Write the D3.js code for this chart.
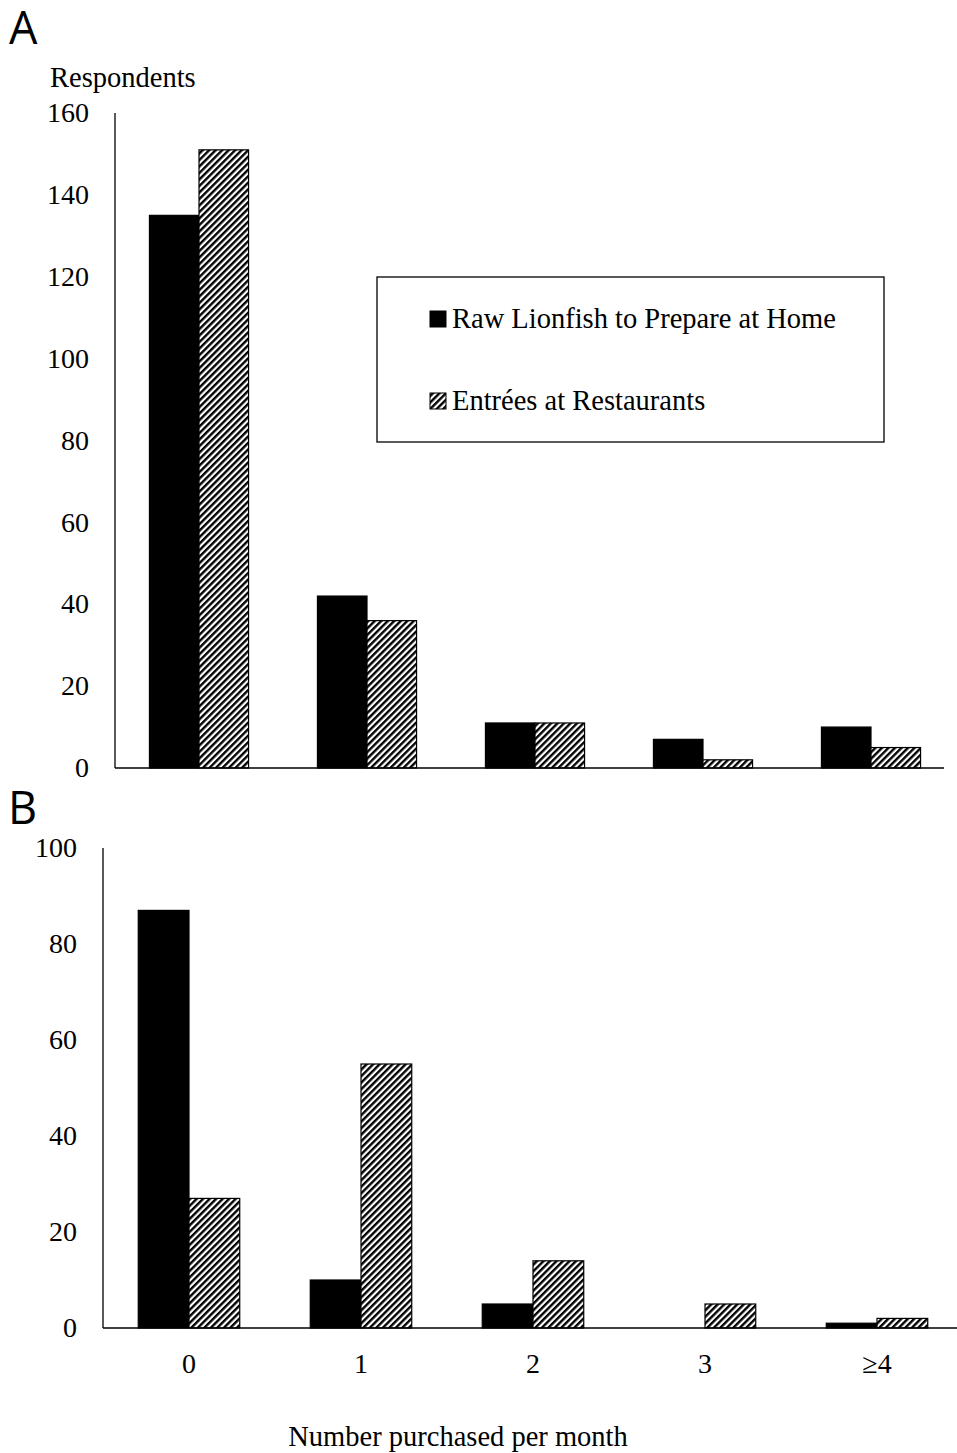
<!DOCTYPE html>
<html>
<head>
<meta charset="utf-8">
<script src="https://cdn.jsdelivr.net/npm/d3@7"></script>
<style>
  body { margin: 0; background: #fff; }
  svg text { font-family: "Liberation Serif", "Times New Roman", serif; fill: #000; }
  .panel-label { font-family: "Open Sans", "DejaVu Sans", sans-serif; }
</style>
</head>
<body>
<div id="chart"></div>
<script>
// categories and series
var categories = ['0', '1', '2', '3', '\u22654'];
var seriesNames = ['Raw Lionfish to Prepare at Home', 'Entr\u00e9es at Restaurants'];

// panel A
var rawA = [135, 42, 11, 7, 10];
var restA = [151, 36, 11, 2, 5];
var ticksA = [0, 20, 40, 60, 80, 100, 120, 140, 160];

// panel B
var rawB = [87, 10, 5, 0, 1];
var restB = [27, 55, 14, 5, 2];
var ticksB = [0, 20, 40, 60, 80, 100];

var width = 957, height = 1453;

var svg = d3.select('#chart')
	.append('svg')
	.attr('width', width)
	.attr('height', height);

// hatch pattern for restaurant bars
var defs = svg.append('defs');
var pat = defs.append('pattern')
	.attr('id', 'hatch')
	.attr('patternUnits', 'userSpaceOnUse')
	.attr('width', 4.6)
	.attr('height', 4.6)
	.attr('patternTransform', 'rotate(45)');
pat.append('rect').attr('width', 4.6).attr('height', 4.6).attr('fill', '#fff');
pat.append('rect').attr('width', 2.4).attr('height', 4.6).attr('fill', '#000');

function drawPanel(opts)
{
	var x = d3.scaleBand()
		.domain(categories)
		.range([opts.left, opts.right])
		.paddingInner(0.41)
		.paddingOuter(0.205);

	var xs = d3.scaleBand()
		.domain([0, 1])
		.range([0, x.bandwidth()]);

	var y = d3.scaleLinear()
		.domain([0, opts.max])
		.range([opts.bottom, opts.top]);

	var g = svg.append('g');

	// y axis line + labels
	g.append('line')
		.attr('x1', opts.left).attr('x2', opts.left)
		.attr('y1', y(opts.max)).attr('y2', y(0))
		.attr('stroke', '#000').attr('stroke-width', 1.3);

	g.selectAll('.ytick')
		.data(opts.ticks)
		.enter()
		.append('text')
		.attr('x', opts.left - opts.labelGap)
		.attr('y', function(d) { return y(d); })
		.attr('dy', '0.33em')
		.attr('text-anchor', 'end')
		.style('font-size', '28px')
		.text(function(d) { return d; });

	var rows = categories.map(function(c, i) {
		return { cat: c, vals: [opts.raw[i], opts.rest[i]] };
	});

	var grp = g.selectAll('.grp')
		.data(rows)
		.enter()
		.append('g')
		.attr('transform', function(d) { return 'translate(' + x(d.cat) + ',0)'; });

	grp.selectAll('rect')
		.data(function(d) { return d.vals.map(function(v, k) { return { v: v, k: k }; }); })
		.enter()
		.filter(function(d) { return d.v > 0; })
		.append('rect')
		.attr('x', function(d) { return xs(d.k); })
		.attr('width', xs.bandwidth())
		.attr('y', function(d) { return y(d.v); })
		.attr('height', function(d) { return y(0) - y(d.v); })
		.attr('fill', function(d) { return d.k === 0 ? '#000' : 'url(#hatch)'; })
		.attr('stroke', '#000')
		.attr('stroke-width', 1.2);

	// baseline
	g.append('line')
		.attr('x1', opts.left).attr('x2', opts.axisEnd)
		.attr('y1', y(0)).attr('y2', y(0))
		.attr('stroke', '#000').attr('stroke-width', 1.3);

	return x;
}

drawPanel({ left: 115, right: 955, axisEnd: 944, top: 113, bottom: 768, max: 160,
	ticks: ticksA, raw: rawA, rest: restA, labelGap: 26 });

var xB = drawPanel({ left: 103, right: 963, axisEnd: 957, top: 848, bottom: 1328, max: 100,
	ticks: ticksB, raw: rawB, rest: restB, labelGap: 26 });

// x tick labels under panel B
svg.selectAll('.xtick')
	.data(categories)
	.enter()
	.append('text')
	.attr('x', function(d) { return xB(d) + xB.bandwidth() / 2; })
	.attr('y', 1373)
	.attr('text-anchor', 'middle')
	.style('font-size', '28px')
	.text(function(d) { return d; });

// axis titles
svg.append('text')
	.attr('x', 50).attr('y', 87)
	.style('font-size', '28.5px')
	.text('Respondents');

svg.append('text')
	.attr('x', 458).attr('y', 1446)
	.attr('text-anchor', 'middle')
	.style('font-size', '28.5px')
	.text('Number purchased per month');

// panel letters
svg.append('text').attr('class', 'panel-label')
	.attr('x', 9).attr('y', 44).style('font-size', '45px').text('A');
svg.append('text').attr('class', 'panel-label')
	.attr('x', 8).attr('y', 824).style('font-size', '45px').text('B');

// legend
var legend = svg.append('g').attr('transform', 'translate(377,277)');
legend.append('rect')
	.attr('width', 507).attr('height', 165)
	.attr('fill', '#fff').attr('stroke', '#000').attr('stroke-width', 1.3);

var item = legend.selectAll('.legend')
	.data(seriesNames)
	.enter()
	.append('g')
	.attr('transform', function(d, i) { return 'translate(53,' + (42 + i * 82) + ')'; });

item.append('rect')
	.attr('width', 16).attr('height', 16)
	.attr('y', -8)
	.attr('fill', function(d, i) { return i === 0 ? '#000' : 'url(#hatch)'; })
	.attr('stroke', '#000').attr('stroke-width', 1);

item.append('text')
	.attr('x', 22)
	.attr('y', 0)
	.attr('dy', '0.33em')
	.style('font-size', '28.5px')
	.text(function(d) { return d; });
</script>
</body>
</html>
